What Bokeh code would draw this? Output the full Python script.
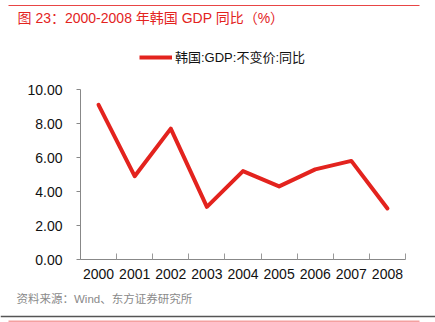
from bokeh.plotting import figure
from bokeh.layouts import column
from bokeh.models import (Legend, LegendItem, FixedTicker, NumeralTickFormatter, Range1d)
from bokeh.core.properties import value
from bokeh.embed import file_html
from bokeh.resources import INLINE

years = ["2000", "2001", "2002", "2003", "2004", "2005", "2006", "2007", "2008"]
gdp_yoy = [9.1, 4.9, 7.7, 3.1, 5.2, 4.3, 5.3, 5.8, 3.0]
y_ticks = [0, 2, 4, 6, 8, 10]
title_text = "图 23：2000-2008 年韩国 GDP 同比（%）"
legend_text = "韩国:GDP:不变价:同比"
source_text = "资料来源：Wind、东方证券研究所"

FONT = "Liberation Sans, Noto Sans CJK SC"
RED = "#E3231E"
W = 435
HEAD_H, MAIN_H, FOOT_H = 80, 210, 32


def blank(h):
    f = figure(width=W, height=h, output_backend="svg", toolbar_location=None,
               x_range=Range1d(0, W), y_range=Range1d(h, 0),
               x_axis_type=None, y_axis_type=None, frame_align=False,
               min_border=0, min_border_left=0, min_border_right=0,
               min_border_top=0, min_border_bottom=0)
    f.grid.visible = False
    f.outline_line_color = None
    f.background_fill_color = "white"
    f.border_fill_color = "white"
    return f


# ---------- header ----------
head = blank(HEAD_H)
head.segment(x0=[8], y0=[5], x1=[419], y1=[5], line_color="#E84545", line_width=1)
head.text(x=[17], y=[17], text=[title_text], text_font=value(FONT),
          text_font_size="14px", text_color=RED, text_baseline="middle", text_align="left")
# legend swatch renderer (its data lies outside the visible range)
leg_r = head.line(x=[-50, -40], y=[-50, -50], line_color=RED, line_width=4)
legend = Legend(items=[LegendItem(label=legend_text, renderers=[leg_r])],
                location=(139, HEAD_H - 66), orientation="horizontal",
                padding=0, margin=0, spacing=0, glyph_width=33, glyph_height=14,
                label_height=14, label_standoff=3, label_text_font=FONT,
                label_text_font_size="13px", label_text_color="#111111",
                border_line_color=None, background_fill_alpha=0)
head.add_layout(legend, "center")

# ---------- main chart ----------
n = len(years)
xc = [i + 0.5 for i in range(n)]

p = figure(width=W, height=MAIN_H, output_backend="svg", toolbar_location=None,
           x_range=Range1d(0, n), y_range=Range1d(0, 10), frame_align=False,
           min_border_left=80, min_border_right=30, min_border_top=9, min_border_bottom=31)
p.outline_line_color = None
p.xgrid.visible = False
p.ygrid.visible = False
p.background_fill_color = "white"
p.border_fill_color = "white"

p.line(xc, gdp_yoy, line_color=RED, line_width=4, line_join="round", line_cap="round")

p.xaxis.ticker = FixedTicker(ticks=xc, minor_ticks=list(range(n + 1)))
p.xaxis.major_label_overrides = {c: y for c, y in zip(xc, years)}
p.xaxis.major_tick_in = 0
p.xaxis.major_tick_out = 0
p.xaxis.minor_tick_in = 6
p.xaxis.minor_tick_out = 0
p.xaxis.minor_tick_line_color = "#999999"
p.xaxis.axis_line_color = "#888888"
p.xaxis.major_label_text_font = FONT
p.xaxis.major_label_text_font_size = "14px"
p.xaxis.major_label_text_color = "#111111"
p.xaxis.major_label_standoff = 9

p.yaxis.ticker = FixedTicker(ticks=y_ticks, minor_ticks=[])
p.yaxis.formatter = NumeralTickFormatter(format="0.00")
p.yaxis.major_tick_in = 0
p.yaxis.major_tick_out = 4
p.yaxis.major_tick_line_color = "#888888"
p.yaxis.axis_line_color = "#888888"
p.yaxis.minor_tick_line_color = None
p.yaxis.major_label_text_font = FONT
p.yaxis.major_label_text_font_size = "14px"
p.yaxis.major_label_text_color = "#111111"
p.yaxis.major_label_standoff = 14

# ---------- footer ----------
foot = blank(FOOT_H)
foot.text(x=[16], y=[8], text=[source_text], text_font=value(FONT),
          text_font_size="11.5px", text_color="#8a8a8a", text_baseline="middle",
          text_align="left")
foot.segment(x0=[0], y0=[26], x1=[W], y1=[26], line_color="#555555", line_width=1.5)
foot.quad(left=[8], right=[419], top=[30], bottom=[32], fill_color="#F4A0A0",
          line_color=None)

layout = column(head, p, foot, spacing=0)
open("out.html", "w").write(file_html(layout, INLINE))
